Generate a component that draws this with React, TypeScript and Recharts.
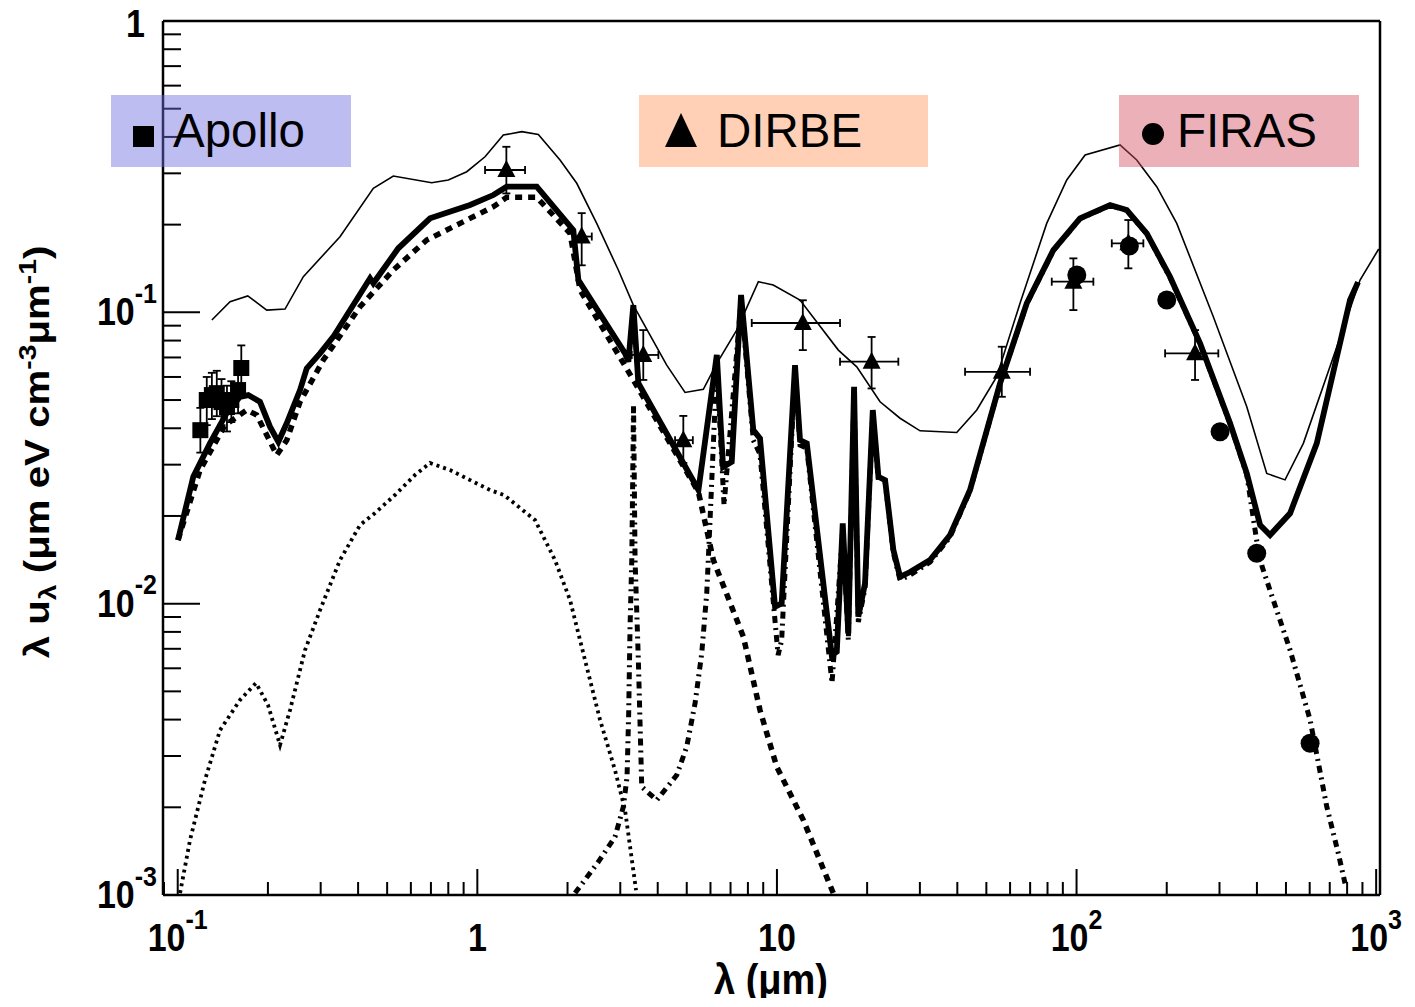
import React from "react";
import { ComposedChart, Line, Scatter, XAxis, YAxis, ErrorBar, ReferenceLine } from "recharts";

// thin solid curve
const upperLam = [0.13, 0.1495, 0.1713, 0.1982, 0.2281, 0.2626, 0.348, 0.4496, 0.5243, 0.7042, 0.8002, 0.922, 1.061, 1.221, 1.407, 1.598, 1.888, 2.147, 2.503, 2.955, 3.317, 4.287, 4.935, 5.68, 6.3, 7.34, 8.67, 9.72, 11.94, 16.03, 18.47, 22.09, 25.76, 30.04, 39.82, 46.45, 54.15, 64.77, 79.51, 92.75, 106.8, 139.7, 158.8, 185.2, 216.0, 286.1, 370.0, 431.3, 496.5, 571.5, 883.6, 1020];
const upperVal = [0.0941, 0.1087, 0.1138, 0.1018, 0.1026, 0.1325, 0.1818, 0.2665, 0.2937, 0.2786, 0.2846, 0.3039, 0.342, 0.406, 0.417, 0.408, 0.3333, 0.2773, 0.202, 0.1397, 0.1059, 0.0659, 0.0531, 0.0544, 0.0668, 0.0869, 0.1274, 0.1241, 0.1102, 0.0742, 0.065, 0.0493, 0.0433, 0.0392, 0.0387, 0.0462, 0.0601, 0.1074, 0.202, 0.2846, 0.3467, 0.3753, 0.3333, 0.2699, 0.202, 0.0966, 0.0474, 0.028, 0.0266, 0.0355, 0.1291, 0.165];

// thick solid curve (total)
const totalLam = [0.1002, 0.1127, 0.1282, 0.1457, 0.1614, 0.172, 0.1882, 0.2032, 0.2167, 0.2311, 0.256, 0.2695, 0.2985, 0.3307, 0.4384, 0.4496, 0.5447, 0.6953, 0.9454, 1.131, 1.253, 1.579, 2.091, 2.174, 3.112, 3.192, 3.317, 3.447, 5.47, 6.3, 6.61, 7.066, 7.59, 8.34, 8.78, 9.856, 10.37, 11.49, 11.94, 12.58, 15.24, 15.84, 16.58, 17.31, 18.09, 18.69, 19.68, 20.89, 21.81, 22.96, 24.47, 25.76, 27.82, 32.43, 37.83, 44.1, 55.55, 68.2, 83.68, 102.7, 129.4, 147.1, 171.5, 205.1, 258.4, 325.4, 370, 409.8, 442.5, 516.1, 633.5, 818, 870];
const totalVal = [0.01653, 0.02727, 0.03557, 0.0451, 0.0513, 0.052, 0.0493, 0.0405, 0.03594, 0.0416, 0.0541, 0.0642, 0.0723, 0.0825, 0.1309, 0.1258, 0.1659, 0.2102, 0.2335, 0.2527, 0.2699, 0.2699, 0.1916, 0.1291, 0.0723, 0.0677, 0.1059, 0.0571, 0.02455, 0.0714, 0.02944, 0.0307, 0.1147, 0.0394, 0.0369, 0.00976, 0.01002, 0.0659, 0.0364, 0.0355, 0.00666, 0.00684, 0.01886, 0.0079, 0.0555, 0.00902, 0.01174, 0.0462, 0.02727, 0.02656, 0.01528, 0.01237, 0.01284, 0.01411, 0.0172, 0.02455, 0.0571, 0.1074, 0.1636, 0.2102, 0.2335, 0.2245, 0.1867, 0.1325, 0.0783, 0.0416, 0.028, 0.01862, 0.0172, 0.02042, 0.0355, 0.1102, 0.127];

// thick dashed curve (stars)
const starLam = [0.1002, 0.1187, 0.1438, 0.1699, 0.1836, 0.214, 0.2311, 0.256, 0.3062, 0.406, 0.5243, 0.6779, 0.8755, 1.131, 1.253, 1.579, 2.039, 2.202, 3.317, 5.47, 6.135, 7.726, 8.78, 9.984, 12.25, 15.43];
const starVal = [0.01653, 0.02875, 0.041, 0.0462, 0.0444, 0.03236, 0.0364, 0.0493, 0.0686, 0.1045, 0.1397, 0.1771, 0.202, 0.2304, 0.2481, 0.2481, 0.1867, 0.1193, 0.0586, 0.02415, 0.01411, 0.0077, 0.00431, 0.002755, 0.001807, 0.001013];

// dash-dot curve (dust)
const dustLam = [2.119, 2.535, 2.882, 3.072, 3.16, 3.2, 3.234, 3.277, 3.322, 3.361, 3.447, 3.538, 3.971, 4.63, 5.0, 5.33, 5.61, 5.83, 5.9, 6.3, 6.66, 7.59, 8.34, 8.78, 10.09, 10.37, 11.49, 11.94, 12.58, 15.27, 16.58, 17.31, 18.09, 18.69, 19.68, 20.89, 21.81, 22.96, 24.47, 25.76, 27.82, 32.43, 37.83, 44.1, 55.55, 68.2, 83.68, 102.7, 129.4, 147.1, 171.5, 205.1, 258.4, 325.4, 370, 399, 416.5, 449.7, 516.1, 601.9, 684.2, 747.6, 787.3];
const dustVal = [0.001015, 0.0013, 0.001584, 0.002009, 0.002545, 0.0042, 0.00833, 0.01411, 0.0481, 0.01411, 0.0064, 0.00235, 0.002117, 0.00258, 0.00323, 0.00455, 0.00675, 0.01085, 0.01411, 0.0659, 0.0218, 0.11, 0.0364, 0.0326, 0.00666, 0.0075, 0.0634, 0.035, 0.0342, 0.00534, 0.01789, 0.00748, 0.0541, 0.00865, 0.01131, 0.0451, 0.02656, 0.0263, 0.01492, 0.01205, 0.01254, 0.01389, 0.01693, 0.0244, 0.057, 0.107, 0.163, 0.2095, 0.2327, 0.2238, 0.186, 0.1317, 0.0779, 0.0414, 0.0277, 0.01653, 0.01339, 0.01056, 0.00693, 0.00399, 0.00201, 0.00139, 0.001096];

// thin dotted curve
const dotLam = [0.1018, 0.1099, 0.1233, 0.1384, 0.1614, 0.1825, 0.2001, 0.2195, 0.237, 0.266, 0.2985, 0.348, 0.406, 0.4556, 0.5309, 0.6192, 0.6953, 0.8106, 0.9454, 1.1024, 1.228, 1.558, 1.817, 2.039, 2.288, 2.568, 2.882, 3.112, 3.386];
const dotVal = [0.001015, 0.001543, 0.00248, 0.00368, 0.00467, 0.00534, 0.00449, 0.00327, 0.00431, 0.00693, 0.0095, 0.01411, 0.01862, 0.02047, 0.0236, 0.02764, 0.0304, 0.02875, 0.02656, 0.02455, 0.0236, 0.01936, 0.01411, 0.01029, 0.0064, 0.00399, 0.00268, 0.001956, 0.001039];

// Apollo
const apolloLam = [0.119, 0.125, 0.13, 0.135, 0.14, 0.146, 0.151, 0.159, 0.163];
const apolloVal = [0.0394, 0.05, 0.052, 0.0528, 0.0492, 0.0473, 0.05, 0.0541, 0.0644];
const apolloHi = [0.047, 0.06, 0.062, 0.063, 0.059, 0.056, 0.058, 0.063, 0.077];
const apolloLo = [0.033, 0.041, 0.043, 0.044, 0.041, 0.039, 0.042, 0.045, 0.054];

// DIRBE
const dirbeLam = [1.25, 2.23, 3.58, 4.87, 12.2, 20.7, 56.3, 97.6, 148.9, 248.6];
const dirbeLamLo = [1.061, 2.091, 3.277, 4.57, 8.24, 16.24, 42.45, 82.65, 131.1, 197.5];
const dirbeLamHi = [1.443, 2.41, 4.02, 5.24, 16.24, 25.42, 69.96, 113.8, 167.1, 297.3];
const dirbeVal = [0.308, 0.182, 0.0714, 0.0364, 0.0919, 0.0677, 0.0625, 0.1274, 0.1725, 0.0723];
const dirbeHi = [0.37, 0.219, 0.0869, 0.0441, 0.11, 0.0823, 0.0762, 0.1532, 0.2074, 0.0869];
const dirbeLo = [0.256, 0.145, 0.0586, 0.0304, 0.0742, 0.0548, 0.0513, 0.1018, 0.1416, 0.0586];

// FIRAS
const firasLam = [100.2, 150.1, 200, 301.3, 399.4, 601.9];
const firasVal = [0.1343, 0.169, 0.1102, 0.0389, 0.01489, 0.00332];

const X_DOMAIN: [number, number] = [0.0893, 1030];
const Y_DOMAIN: [number, number] = [0.001, 1];
const W = 1400;
const H = 998;
const FONT = '"Liberation Sans", Arial, Helvetica, sans-serif';

const pairs = (xs: number[], ys: number[]) => xs.map((x, i) => ({ x, y: ys[i] }));

const upperData = pairs(upperLam, upperVal);
const totalData = pairs(totalLam, totalVal);
const starData = pairs(starLam, starVal);
const dustData = pairs(dustLam, dustVal);
const dotData = pairs(dotLam, dotVal);
const apolloData = apolloLam.map((x, i) => ({
    x,
    y: apolloVal[i],
    ey: [apolloVal[i] - apolloLo[i], apolloHi[i] - apolloVal[i]],
}));
const dirbeData = dirbeLam.map((x, i) => ({
    x,
    y: dirbeVal[i],
    ey: [dirbeVal[i] - dirbeLo[i], dirbeHi[i] - dirbeVal[i]],
    ex: [x - dirbeLamLo[i], dirbeLamHi[i] - x],
}));
const firasData = pairs(firasLam, firasVal);

function logTicks(lo: number, hi: number) {
    const out: number[] = [];
    for (let n = -3; n <= 3; n++) {
        for (let k = 1; k <= 9; k++) {
            const v = parseFloat((k * Math.pow(10, n)).toPrecision(3));
            if (v >= lo && v <= hi) out.push(v);
        }
    }
    return out;
}
const xTicks = logTicks(X_DOMAIN[0], X_DOMAIN[1]);
const yTicks = logTicks(Y_DOMAIN[0], Y_DOMAIN[1]);

const isMajor = (v: number) => {
    const l = Math.log10(v);
    return Math.abs(l - Math.round(l)) < 1e-6;
};

// ROOT style: 1 and 10 are plain, other decades as powers
function PowText({ v, anchor }: { v: number; anchor: "middle" | "end" }) {
    const n = Math.round(Math.log10(v));
    const plain = n === 0 || n === 1;
    return (
        <text x={0} y={0} textAnchor={anchor} fontFamily={FONT} fontWeight="bold" fontSize={34} fill="#000">
            {n === 0 ? "1" : "10"}
            {!plain && (
                <tspan dy={-20} fontSize={25}>
                    {String(n)}
                </tspan>
            )}
        </text>
    );
}

function XTick(props: any) {
    const { x, y, payload } = props;
    const v = payload.value;
    const major = isMajor(v);
    return (
        <g>
            <line x1={x} y1={y} x2={x} y2={y - (major ? 26 : 13)} stroke="#000" strokeWidth={2} />
            {major && (
                <g transform={`translate(${x},${y + 56}) scale(1,1.12)`}>
                    <PowText v={v} anchor="middle" />
                </g>
            )}
        </g>
    );
}

function YTick(props: any) {
    const { x, y, payload } = props;
    const v = payload.value;
    const major = isMajor(v);
    const one = Math.round(Math.log10(v)) === 0;
    return (
        <g>
            <line x1={x} y1={y} x2={x + (major ? 37 : 18)} y2={y} stroke="#000" strokeWidth={2} />
            {major && (
                <g transform={`translate(${x - (one ? 18 : 6)},${y + (one ? 16 : 13)}) scale(1,1.12)`}>
                    <PowText v={v} anchor="end" />
                </g>
            )}
        </g>
    );
}

const centerOf = (p: any) => ({
    cx: p.cx ?? p.x + (p.width || 0) / 2,
    cy: p.cy ?? p.y + (p.height || 0) / 2,
});

const SquareDot = (p: any) => {
    const { cx, cy } = centerOf(p);
    return <rect x={cx - 8} y={cy - 8} width={16} height={16} fill="#000" />;
};
const TriangleDot = (p: any) => {
    const { cx, cy } = centerOf(p);
    return <polygon points={`${cx},${cy - 10} ${cx - 9},${cy + 7} ${cx + 9},${cy + 7}`} fill="#000" />;
};
const CircleDot = (p: any) => {
    const { cx, cy } = centerOf(p);
    return <circle cx={cx} cy={cy} r={9.5} fill="#000" />;
};

const sup = { fontSize: "0.7em", position: "relative" as const, top: "-0.55em" };
const sub = { fontSize: "0.7em", position: "relative" as const, top: "0.3em" };

function LegendBox({ left, top, width, bg, marker, label, textLeft }: any) {
    return (
        <div style={{ position: "absolute", left, top, width, height: 72, background: bg }}>
            {marker}
            <span
                style={{
                    position: "absolute",
                    left: textLeft,
                    top: 12,
                    fontFamily: FONT,
                    fontSize: 47.5,
                    lineHeight: "47px",
                    color: "#000",
                    whiteSpace: "nowrap",
                }}
            >
                {label}
            </span>
        </div>
    );
}

export default function App() {
    // the wrapper is lifted by the body margin so the top "1" label fits
    return (
        <div style={{ position: "relative", width: W, height: H, marginTop: -8, fontFamily: FONT }}>
            <ComposedChart width={W} height={H} margin={{ top: 21, right: 28, left: 55, bottom: 43 }}>
                <XAxis
                    dataKey="x"
                    type="number"
                    scale="log"
                    domain={X_DOMAIN}
                    allowDataOverflow
                    ticks={xTicks}
                    interval={0}
                    tick={(p: any) => <XTick {...p} />}
                    tickLine={false}
                    tickSize={0}
                    tickMargin={0}
                    height={60}
                    axisLine={{ stroke: "#000", strokeWidth: 2.5 }}
                />
                <YAxis
                    dataKey="y"
                    type="number"
                    scale="log"
                    domain={Y_DOMAIN}
                    allowDataOverflow
                    ticks={yTicks}
                    interval={0}
                    tick={(p: any) => <YTick {...p} />}
                    tickLine={false}
                    tickSize={0}
                    tickMargin={0}
                    width={100}
                    axisLine={{ stroke: "#000", strokeWidth: 2.5 }}
                />
                <ReferenceLine y={1} stroke="#000" strokeWidth={2.5} ifOverflow="visible" />
                <ReferenceLine x={X_DOMAIN[1]} stroke="#000" strokeWidth={2.5} ifOverflow="visible" />

                <Line data={upperData} dataKey="y" type="linear" stroke="#000" strokeWidth={1.6} dot={false} isAnimationActive={false} />
                <Line data={dotData} dataKey="y" type="linear" stroke="#000" strokeWidth={3.8} strokeDasharray="3 4" dot={false} isAnimationActive={false} />
                <Line data={dustData} dataKey="y" type="linear" stroke="#000" strokeWidth={5} strokeDasharray="7 5 2 5" dot={false} isAnimationActive={false} />
                <Line data={starData} dataKey="y" type="linear" stroke="#000" strokeWidth={5.5} strokeDasharray="7 6" dot={false} isAnimationActive={false} />
                <Line data={totalData} dataKey="y" type="linear" stroke="#000" strokeWidth={5.8} dot={false} isAnimationActive={false} />

                <Scatter data={apolloData} dataKey="y" shape={SquareDot} isAnimationActive={false}>
                    <ErrorBar dataKey="ey" direction="y" width={4} stroke="#000" strokeWidth={1.8} isAnimationActive={false} />
                </Scatter>
                <Scatter data={dirbeData} dataKey="y" shape={TriangleDot} isAnimationActive={false}>
                    <ErrorBar dataKey="ey" direction="y" width={4} stroke="#000" strokeWidth={1.8} isAnimationActive={false} />
                    <ErrorBar dataKey="ex" direction="x" width={4} stroke="#000" strokeWidth={1.8} isAnimationActive={false} />
                </Scatter>
                <Scatter data={firasData} dataKey="y" shape={CircleDot} isAnimationActive={false} />
            </ComposedChart>

            <LegendBox
                left={103}
                top={95}
                width={240}
                bg="rgba(108,108,226,0.45)"
                textLeft={62}
                label="Apollo"
                marker={<div style={{ position: "absolute", left: 22, top: 31, width: 21, height: 21, background: "#000" }} />}
            />
            <LegendBox
                left={631}
                top={95}
                width={289}
                bg="rgba(255,150,93,0.45)"
                textLeft={78}
                label="DIRBE"
                marker={
                    <div
                        style={{
                            position: "absolute",
                            left: 26,
                            top: 18,
                            width: 0,
                            height: 0,
                            borderLeft: "16.5px solid transparent",
                            borderRight: "16.5px solid transparent",
                            borderBottom: "34px solid #000",
                        }}
                    />
                }
            />
            <LegendBox
                left={1111}
                top={95}
                width={240}
                bg="rgba(213,82,97,0.45)"
                textLeft={58}
                label="FIRAS"
                marker={<div style={{ position: "absolute", left: 23, top: 28, width: 22, height: 22, borderRadius: "50%", background: "#000" }} />}
            />

            <div style={{ position: "absolute", left: 30, top: 452, width: 0, height: 0 }}>
                <div
                    style={{
                        position: "absolute",
                        left: 0,
                        top: 0,
                        transform: "translate(-50%, -50%) rotate(-90deg) scaleX(1.15)",
                        whiteSpace: "nowrap",
                        fontFamily: FONT,
                        fontWeight: "bold",
                        fontSize: 35,
                        lineHeight: "35px",
                        color: "#000",
                    }}
                >
                    λ u<span style={sub}>λ</span> (μm eV cm<span style={sup}>-3</span>μm<span style={sup}>-1</span>)
                </div>
            </div>
            <div style={{ position: "absolute", left: 763, top: 980, width: 0, height: 0 }}>
                <div
                    style={{
                        position: "absolute",
                        left: 0,
                        top: 0,
                        transform: "translate(-50%, -50%) scaleY(1.1)",
                        whiteSpace: "nowrap",
                        fontFamily: FONT,
                        fontWeight: "bold",
                        fontSize: 38,
                        lineHeight: "34px",
                        color: "#000",
                    }}
                >
                    λ (μm)
                </div>
            </div>
        </div>
    );
}
